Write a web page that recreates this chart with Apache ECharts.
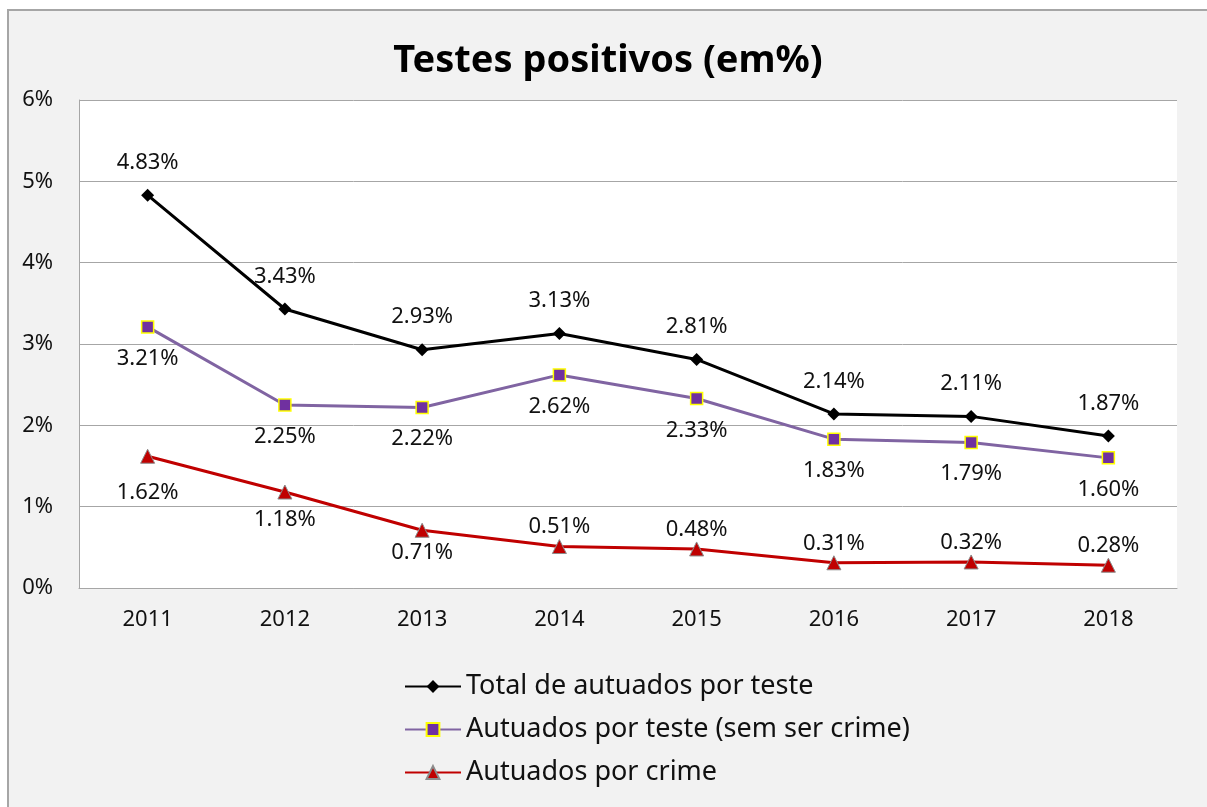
<!DOCTYPE html>
<html>
<head>
<meta charset="utf-8">
<script src="https://cdn.jsdelivr.net/npm/echarts@6/dist/echarts.min.js"></script>
<style>
  html, body { margin: 0; padding: 0; background: #fff; }
  #frame {
    position: absolute; left: 7px; top: 9px;
    width: 1200px; height: 798px;
    border-left: 2px solid #a6a6a6; border-top: 2px solid #a6a6a6;
    background: #f2f2f2;
  }
  #chart { width: 1198px; height: 796px; }
</style>
</head>
<body>
<div id="frame"><div id="chart"></div></div>
<script>
    const years = ['2011', '2012', '2013', '2014', '2015', '2016', '2017', '2018'];
    const totalPorTeste = [4.83, 3.43, 2.93, 3.13, 2.81, 2.14, 2.11, 1.87];
    const semCrime = [3.21, 2.25, 2.22, 2.62, 2.33, 1.83, 1.79, 1.60];
    const porCrime = [1.62, 1.18, 0.71, 0.51, 0.48, 0.31, 0.32, 0.28];
    const seriesNames = [
        'Total de autuados por teste',
        'Autuados por teste (sem ser crime)',
        'Autuados por crime'
    ];

    const font = '"Noto Sans", sans-serif';
    const pct = v => v.toFixed(2) + '%';

    // red series labels: below for the first three, hugging the line after that
    const crimeLabelDist = [18, 9, 4, 1, 1, 1, 1, 1];

    const labelBase = {
        show: true,
        fontFamily: font,
        fontSize: 22,
        color: '#111',
        distance: 15,
        formatter: p => pct(p.value)
    };

    const chart = echarts.init(document.getElementById('chart'), null, { renderer: 'canvas' });

    chart.setOption({
        backgroundColor: 'transparent',
        animation: false,
        title: {
            text: 'Testes positivos (em%)',
            left: 'center',
            top: 26,
            textStyle: { fontFamily: font, fontSize: 38, fontWeight: 'bold', color: '#000' }
        },
        grid: {
            left: 70, right: 30, top: 89, bottom: 219,
            show: true, backgroundColor: '#fff', borderWidth: 0
        },
        legend: {
            orient: 'vertical',
            left: 390,
            top: 657,
            itemWidth: 56,
            itemHeight: 16,
            itemGap: 16,
            data: seriesNames,
            textStyle: { fontFamily: font, fontSize: 27, color: '#111' }
        },
        xAxis: {
            type: 'category',
            data: years,
            boundaryGap: true,
            axisLine: { lineStyle: { color: '#a6a6a6', width: 1 } },
            axisTick: { show: false },
            axisLabel: { fontFamily: font, fontSize: 22, color: '#111', margin: 21 }
        },
        yAxis: {
            type: 'value',
            min: 0, max: 6, interval: 1,
            axisLine: { show: true, lineStyle: { color: '#a6a6a6', width: 1 } },
            axisTick: { show: false },
            splitLine: { lineStyle: { color: '#a6a6a6', width: 1 } },
            axisLabel: { fontFamily: font, fontSize: 22, color: '#111', margin: 26, formatter: '{value}%' }
        },
        series: [
            {
                name: seriesNames[0],
                type: 'line',
                data: totalPorTeste,
                symbol: 'diamond',
                symbolSize: 13,
                lineStyle: { color: '#000', width: 3 },
                itemStyle: { color: '#000' },
                label: Object.assign({}, labelBase, { position: 'top' })
            },
            {
                name: seriesNames[1],
                type: 'line',
                data: semCrime,
                symbol: 'rect',
                symbolSize: 12,
                lineStyle: { color: '#8064a2', width: 3 },
                itemStyle: { color: '#7030a0', borderColor: '#ffff00', borderWidth: 1.5 },
                label: Object.assign({}, labelBase, { position: 'bottom', distance: 14 })
            },
            {
                name: seriesNames[2],
                type: 'line',
                data: porCrime.map((v, i) => ({
                    value: v,
                    label: { position: i < 3 ? 'bottom' : 'top', distance: crimeLabelDist[i] }
                })),
                symbol: 'triangle',
                symbolSize: 14,
                lineStyle: { color: '#c00000', width: 3 },
                itemStyle: { color: '#c00000', borderColor: '#8c8c8c', borderWidth: 1 },
                label: labelBase
            }
        ]
    });
</script>
</body>
</html>
